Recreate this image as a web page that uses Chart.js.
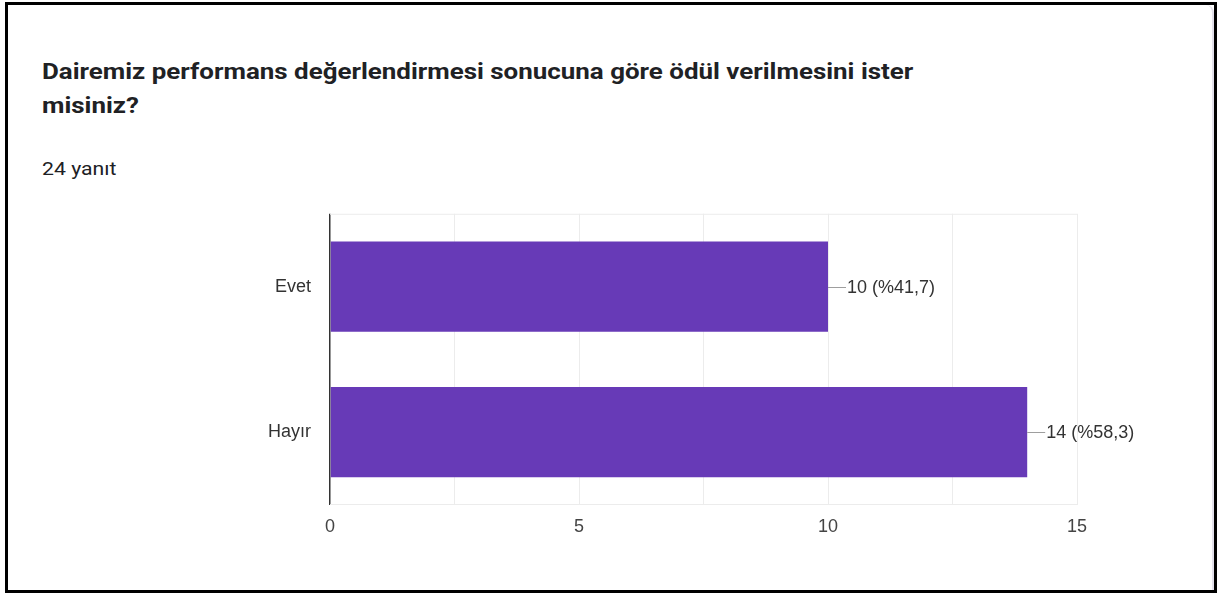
<!DOCTYPE html>
<html>
<head>
<meta charset="utf-8">
<script src="https://cdn.jsdelivr.net/npm/chart.js@4"></script>
<style>
  html, body { margin: 0; padding: 0; background: #fff; }
  body { width: 1219px; height: 593px; position: relative; overflow: hidden; }
  #frame {
    position: absolute; left: 5px; top: 2px; width: 1206px; height: 585px;
    border: 3px solid #000; overflow: hidden;
  }
  #card {
    position: absolute; left: -10px; top: 0; width: 1214px; height: 600px;
    background: #fff; border-radius: 8px;
    border-right: 2px solid #e3e0ea;
  }
  #title {
    position: absolute; left: 34px; top: 50px; width: 760px;
    font-family: Roboto, "Liberation Sans", sans-serif; font-weight: 700;
    font-size: 22px; line-height: 34px; color: #202124;
    transform: scaleX(1.178); transform-origin: 0 0;
  }
  #count {
    position: absolute; left: 34px; top: 154px;
    font-family: Roboto, "Liberation Sans", sans-serif;
    font-size: 18px; line-height: 20px; color: #202124;
    transform: scaleX(1.18); transform-origin: 0 0;
  }
  #wrap { position: absolute; left: 200px; top: 184px; width: 1000px; height: 366px; }
</style>
</head>
<body>
<div id="frame">
  <div id="card"></div>
  <div id="title">Dairemiz performans değerlendirmesi sonucuna göre ödül verilmesini ister misiniz?</div>
  <div id="count">24 yanıt</div>
</div>
<div id="wrap"><canvas id="barCanvas"></canvas></div>
<script>
const categories = ["Evet", "Hayır"]
const answers = [10, 14]
const total = 24
const xTicks = [0, 5, 10, 15]

// light frame around the plot area
const plotFrame = {
    id: 'plotFrame',
    beforeDatasetsDraw(chart) {
        const { ctx, chartArea: a } = chart
        ctx.save()
        ctx.strokeStyle = '#ececec'
        ctx.lineWidth = 1
        ctx.beginPath()
        ctx.moveTo(a.left, a.top + 0.5)
        ctx.lineTo(a.right, a.top + 0.5)
        ctx.moveTo(a.left, a.bottom - 0.5)
        ctx.lineTo(a.right, a.bottom - 0.5)
        ctx.stroke()
        ctx.restore()
    }
}

// leader line + "10 (%41,7)" next to each bar
const valueLabels = {
    id: 'valueLabels',
    afterDatasetsDraw(chart) {
        const ctx = chart.ctx
        const meta = chart.getDatasetMeta(0)
        ctx.save()
        ctx.font = '18px "Liberation Sans", Arial, sans-serif'
        ctx.textBaseline = 'middle'
        meta.data.forEach((bar, i) => {
            const v = answers[i]
            const pct = (v / total * 100).toFixed(1).replace('.', ',')
            const y = Math.round(bar.y) + 0.5
            ctx.strokeStyle = '#9e9e9e'
            ctx.lineWidth = 1
            ctx.beginPath()
            ctx.moveTo(bar.x, y)
            ctx.lineTo(bar.x + 18, y)
            ctx.stroke()
            ctx.fillStyle = '#333'
            ctx.fillText(v + ' (%' + pct + ')', bar.x + 19, bar.y + 1)
        })
        ctx.restore()
    }
}

const barCanvas = document.getElementById('barCanvas')

const barChart = new Chart(barCanvas, {
    type: "bar",
    data: {
        labels: categories,
        datasets: [{
            data: answers,
            backgroundColor: "#673ab7",
            borderWidth: 0,
            categoryPercentage: 1,
            barPercentage: 0.62,
        }]
    },
    plugins: [plotFrame, valueLabels],
    options: {
        indexAxis: 'y',
        responsive: true,
        maintainAspectRatio: false,
        animation: false,
        layout: { padding: { top: 0, right: 123, left: 0, bottom: 0 } },
        plugins: {
            legend: { display: false },
            tooltip: { enabled: false }
        },
        scales: {
            x: {
                min: 0,
                max: 15,
                afterFit(scale) { scale.height = 45 },
                afterBuildTicks(scale) {
                    scale.ticks = [0, 2.5, 5, 7.5, 10, 12.5, 15].map(v => ({ value: v }))
                },
                ticks: {
                    padding: 11,
                    color: '#444',
                    font: { family: '"Liberation Sans", Arial, sans-serif', size: 18 },
                    callback: (v) => xTicks.includes(v) ? String(v) : ''
                },
                grid: {
                    drawTicks: false,
                    color: (c) => c.tick && c.tick.value === 0 ? '#333' : '#ececec',
                    lineWidth: (c) => c.tick && c.tick.value === 0 ? 1.5 : 1
                },
                border: { display: false }
            },
            y: {
                afterFit(scale) { scale.width = 130 },
                ticks: {
                    padding: 19,
                    color: '#333',
                    font: { family: '"Liberation Sans", Arial, sans-serif', size: 18 }
                },
                grid: { display: false, drawTicks: false },
                border: { display: false }
            }
        }
    }
})
</script>
</body>
</html>
